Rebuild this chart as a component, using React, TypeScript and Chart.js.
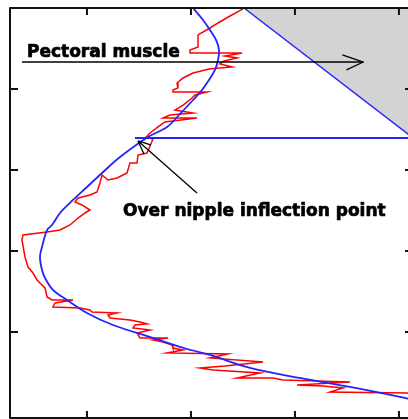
import React, { useEffect, useRef } from "react";
import { Chart, registerables } from "chart.js";

Chart.register(...registerables);

// Scale ranges (image-like units, y grows downward)
const X_MIN = 26;
const X_MAX = 413.5;
const Y_MIN = 0;
const Y_MAX = 506.2;
const X_TICKS = [100, 200, 300, 400];
const Y_TICKS = [100, 200, 300, 400];

// Detected breast boundary (red staircase)
const redX = [250, 237.5, 226, 218.3, 206.8, 206.8, 199.1, 199.1, 249.1, 232.7, 244.3, 231.8, 227.9, 239.5, 217.3, 202, 192.4, 186.6, 187.5, 182.7, 182.7, 215.4, 203.9, 201, 192.4, 184.7, 202, 179.8, 173.1, 205.8, 175, 168.3, 160.6, 156.8, 163.5, 157.7, 149.1, 148.1, 141.4, 138.5, 128.9, 120.2, 114.5, 112.5, 109.7, 102.9, 91.4, 88.5, 95.2, 102.9, 98.1, 91.4, 83.7, 74.1, 61.6, 38.5, 37.5, 40.4, 43.3, 48.1, 52, 54.8, 59.7, 61.6, 66.4, 86.6, 69.3, 67.3, 93.3, 102.9, 104.8, 128.9, 120.2, 122.2, 141.4, 151, 157.7, 146.2, 144.3, 160.6, 148.1, 151, 177.9, 163.5, 173.1, 181.8, 182.7, 192.4, 177, 235.6, 218.3, 269.3, 232.7, 208.7, 221.2, 266.4, 244.3, 278.9, 288.5, 352.9, 302, 327, 346.2, 333.7, 407.7, 413.5];
const redY = [1, 9.9, 18.5, 24.7, 33.3, 48.1, 51.9, 55.6, 55.6, 59.3, 61.7, 65.4, 69.1, 72.8, 75.3, 80.2, 86.4, 92.6, 98.8, 101.2, 103.7, 103.7, 107.4, 111.1, 119.8, 125.9, 129.6, 132.1, 135.8, 135.8, 140.7, 146.9, 154.3, 159.3, 161.7, 179, 181.5, 191.4, 191.4, 203.7, 209.9, 212.3, 206.2, 216, 227.2, 230.9, 234.6, 239.5, 243.2, 249.4, 253.1, 259.3, 267.9, 274.1, 276.5, 280.2, 286.4, 307.4, 319.8, 327.2, 335.8, 339.5, 345.7, 356.8, 360.5, 360.5, 364.2, 369.1, 370.4, 372.8, 375.3, 376.5, 379, 382.7, 385.2, 387.7, 390.1, 391.4, 395.1, 397.5, 401.2, 407.4, 407.4, 409.9, 412.3, 416, 419.8, 422.2, 425.9, 427.2, 432.1, 437, 442, 444.4, 446.9, 450.6, 456.8, 456.8, 459.3, 461.7, 465.4, 466.7, 469.1, 474.1, 475.3, 476.5];

// Fitted smooth boundary (blue)
const blueX = [202, 211.6, 218.3, 224.1, 227, 226, 223.1, 217.3, 210.6, 202, 190.4, 177, 158.7, 131.8, 114.5, 100, 86.6, 74.1, 66.4, 61.6, 56.8, 54.8, 56.8, 59.7, 67.3, 80.8, 100, 125, 163.5, 196.2, 218.3, 256.8, 304.8, 352.9, 401, 413.5];
const blueY = [0, 14.8, 27.2, 39.5, 51.9, 64.2, 76.5, 88.9, 101.2, 113.6, 129.6, 146.9, 159.3, 184, 203.7, 221, 237, 253.1, 267.9, 274.1, 295.1, 307.4, 323.5, 333.3, 348.1, 360.5, 376.5, 391.4, 407.4, 421, 428.4, 444.4, 456.8, 467.9, 480.2, 484];

// Pectoral muscle edge and nipple line
const pectoralX = [251, 413.5];
const pectoralY = [0, 160.5];
const nippleLineX = [146.2, 413.5];
const nippleLineY = [160.5, 160.5];

// Annotations
const label1 = "Pectoral muscle";
const label1Pos = [42.3, 60.5];
const arrow1From = [37.5, 66.7];
const arrow1To = [365.8, 66.7];
const arrow1Barbs = [[345.6, 58], [349.5, 76.5]];
const label2 = "Over nipple inflection point";
const label2Pos = [134.7, 256.8];
const arrow2From = [205.8, 228.4];
const arrow2To = [149.1, 164.2];
const arrow2Barbs = [[161.2, 169.1], [154.8, 180.2]];

const zip = (xs: number[], ys: number[]) => xs.map((x, i) => ({ x, y: ys[i] }));

const BLUE = "rgb(35,35,255)";

const framePlugin = {
  id: "frameAndNotes",
  afterDatasetsDraw(chart: any) {
    const { ctx, chartArea: a, scales } = chart;
    const xs = scales.x;
    const ys = scales.y;
    const px = (v: number) => xs.getPixelForValue(v);
    const py = (v: number) => ys.getPixelForValue(v);
    ctx.save();
    // arrows
    ctx.strokeStyle = "#000";
    ctx.lineWidth = 1.3;
    const line = (p: number[], q: number[]) => {
      ctx.beginPath();
      ctx.moveTo(px(p[0]), py(p[1]));
      ctx.lineTo(px(q[0]), py(q[1]));
      ctx.stroke();
    };
    line(arrow1From, arrow1To);
    arrow1Barbs.forEach((b) => line(b, arrow1To));
    line(arrow2From, arrow2To);
    arrow2Barbs.forEach((b) => line(b, arrow2To));
    // text (slightly heavier than plain bold)
    ctx.fillStyle = "#000";
    ctx.strokeStyle = "#000";
    ctx.lineWidth = 0.7;
    ctx.lineJoin = "round";
    ctx.font = 'bold 17px "DejaVu Sans"';
    ctx.textBaseline = "alphabetic";
    ctx.textAlign = "left";
    [[label1, label1Pos], [label2, label2Pos]].forEach(([t, p]: any) => {
      ctx.fillText(t, px(p[0]), py(p[1]));
      ctx.strokeText(t, px(p[0]), py(p[1]));
    });
    // frame
    ctx.strokeStyle = "#111";
    ctx.lineWidth = 2;
    ctx.strokeRect(a.left, a.top, a.right - a.left, a.bottom - a.top);
    // inward ticks
    X_TICKS.forEach((v) => {
      const x = px(v);
      ctx.beginPath();
      ctx.moveTo(x, a.bottom);
      ctx.lineTo(x, a.bottom - 7);
      ctx.moveTo(x, a.top);
      ctx.lineTo(x, a.top + 7);
      ctx.stroke();
    });
    Y_TICKS.forEach((v) => {
      const y = py(v);
      ctx.beginPath();
      ctx.moveTo(a.left, y);
      ctx.lineTo(a.left + 8, y);
      ctx.moveTo(a.right, y);
      ctx.lineTo(a.right - 8, y);
      ctx.stroke();
    });
    ctx.restore();
  },
};

export default function App() {
  const ref = useRef<HTMLCanvasElement | null>(null);
  useEffect(() => {
    if (!ref.current) return;
    const chart = new Chart(ref.current, {
      type: "line",
      data: {
        datasets: [
          {
            data: zip(pectoralX, pectoralY),
            borderColor: BLUE,
            borderWidth: 1.4,
            backgroundColor: "rgb(211,211,211)",
            fill: { value: 0 },
            pointRadius: 0,
            order: 4,
          },
          {
            data: zip(redX, redY),
            borderColor: "rgb(255,0,0)",
            borderWidth: 1.5,
            pointRadius: 0,
            fill: false,
            order: 3,
          },
          {
            data: zip(blueX, blueY),
            borderColor: BLUE,
            borderWidth: 1.8,
            pointRadius: 0,
            tension: 0.35,
            fill: false,
            order: 2,
          },
          {
            data: zip(nippleLineX, nippleLineY),
            borderColor: BLUE,
            borderWidth: 2,
            pointRadius: 0,
            fill: false,
            order: 1,
          },
        ],
      },
      options: {
        animation: false,
        responsive: true,
        maintainAspectRatio: false,
        layout: { padding: { left: 10, top: 8, right: 7, bottom: 1 } },
        scales: {
          x: { type: "linear", min: X_MIN, max: X_MAX, display: false },
          y: { type: "linear", min: Y_MIN, max: Y_MAX, reverse: true, display: false },
        },
        plugins: {
          legend: { display: false },
          tooltip: { enabled: false },
        },
        events: [],
      },
      plugins: [framePlugin],
    });
    return () => chart.destroy();
  }, []);
  return (
    <div style={{ position: "fixed", left: 0, top: 0, width: 408, height: 419, overflow: "hidden", background: "#fff" }}>
      <div style={{ position: "relative", width: 420, height: 419 }}>
        <canvas ref={ref} />
      </div>
    </div>
  );
}
